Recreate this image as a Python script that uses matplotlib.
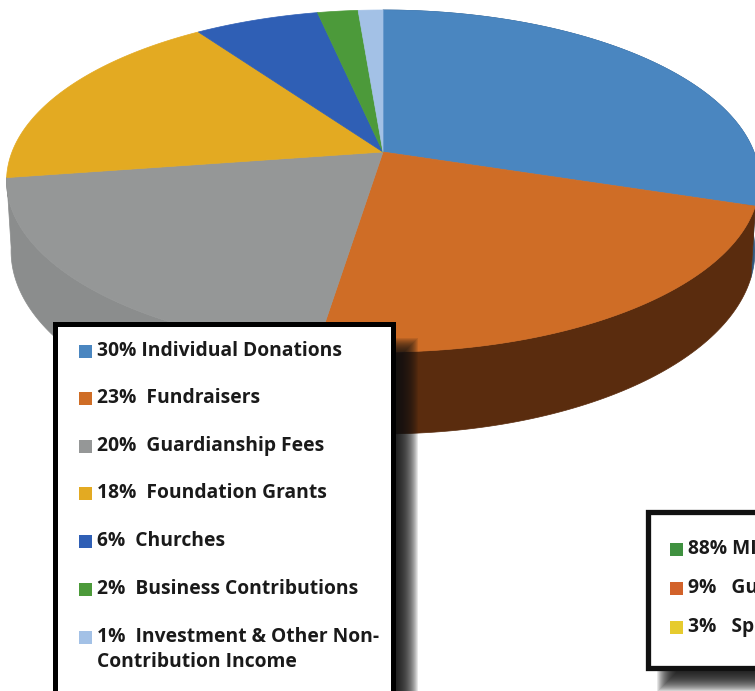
"""Tilted 3D pie of income sources with two legend boxes (pixel-space axes)."""
import numpy as np
import matplotlib
matplotlib.use('Agg')
import matplotlib.pyplot as plt
from matplotlib.patches import Rectangle

# data: slice sizes as measured on the picture (labels carry the rounded figures)
shares = [30, 22.4, 20.2, 17.8, 6.3, 2.05, 1.25]
top_colors = ['#4a86c0', '#cf6d26', '#959797', '#e3aa22', '#2f5fb5', '#4c9a3a', '#a3c1e6']
wall_colors = ['#33597f', '#5a2c0e', '#8b8d8d', 'none', 'none', 'none', 'none']
left_labels = ['30% Individual Donations', '23%  Fundraisers', '20%  Guardianship Fees',
               '18%  Foundation Grants', '6%  Churches', '2%  Business Contributions',
               '1%  Investment & Other Non-\nContribution Income']
right_labels = ['88% MI', '9%   Gu', '3%   Spi']
right_colors = ['#3f9140', '#d2622a', '#e6cb2e']

# geometry of the tilted disc, in pixels
CX, CY, RX = 383, 152, 371
PERSP, TILT = 0.1696, -140.3
DEPTH = 68
TXT = dict(fontsize=13.85, fontweight='bold', family='Open Sans', color='#1a1a1a',
           va='center', zorder=6)


def project(angles, z=0.0):
    """angle clockwise from the top -> screen x, y"""
    u, v = np.sin(angles), np.cos(angles)
    den = 1 + PERSP * v
    x = CX + RX * u / den * (1 - 0.012 * z)
    y = (TILT * v + CY) / den + z * DEPTH / den
    return x, y


def shadow(ax, x0, y0, x1, y1, steps=22, spread=22, strength=0.1):
    for i in range(steps):
        s = spread * i / steps
        ax.add_patch(Rectangle((x0 + s, y0 + s), x1 - x0 - 2 * s, y1 - y0 - 2 * s,
                               fc='#111111', ec='none', alpha=strength, zorder=4))


fig = plt.figure(figsize=(7.55, 6.91), dpi=100, facecolor='white')
ax = fig.add_axes([0, 0, 1, 1])
ax.set_xlim(0, 755)
ax.set_ylim(691, 0)
ax.axis('off')

edges = np.cumsum([0] + shares) / 100 * 2 * np.pi

# side wall first, top surface over it
for a0, a1, c in zip(edges[:-1], edges[1:], wall_colors):
    t = np.linspace(a0, a1, 80)
    xt, yt = project(t)
    xb, yb = project(t, 1.0)
    ax.fill(np.r_[xt, xb[::-1]], np.r_[yt, yb[::-1]], color=c, lw=0.5, zorder=1)

for a0, a1, c in zip(edges[:-1], edges[1:], top_colors):
    t = np.linspace(a0, a1, 120)
    xt, yt = project(t)
    ax.fill(np.r_[CX, xt], np.r_[CY, yt], color=c, lw=0.5, zorder=2)

# left legend box
shadow(ax, 60, 338, 418, 740)
ax.add_patch(Rectangle((55, 323.5), 337.5, 420, fc='white', ec='black', lw=3.6, zorder=5))
left_y = [351, 398, 446, 493, 541, 589, 637]
for y, lab, c in zip(left_y, left_labels, top_colors):
    ax.add_patch(Rectangle((79, y - 6), 13, 13, fc=c, ec='none', zorder=6))
    lines = lab.split('\n')
    ax.text(97, y, lines[0], **TXT)
    if len(lines) > 1:
        ax.text(97, y + 25, lines[1], **TXT)

# right legend box, runs off the page
shadow(ax, 657, 640, 800, 692, spread=20, steps=20)
ax.add_patch(Rectangle((648, 511.5), 140, 156.5, fc='white', ec='#111111', lw=3.8, zorder=5))
right_y = [549, 588, 627]
for y, lab, c in zip(right_y, right_labels, right_colors):
    ax.add_patch(Rectangle((670, y - 6), 13, 13, fc=c, ec='none', zorder=6))
    ax.text(688, y, lab, **TXT)

fig.savefig('out.png', dpi=100)
